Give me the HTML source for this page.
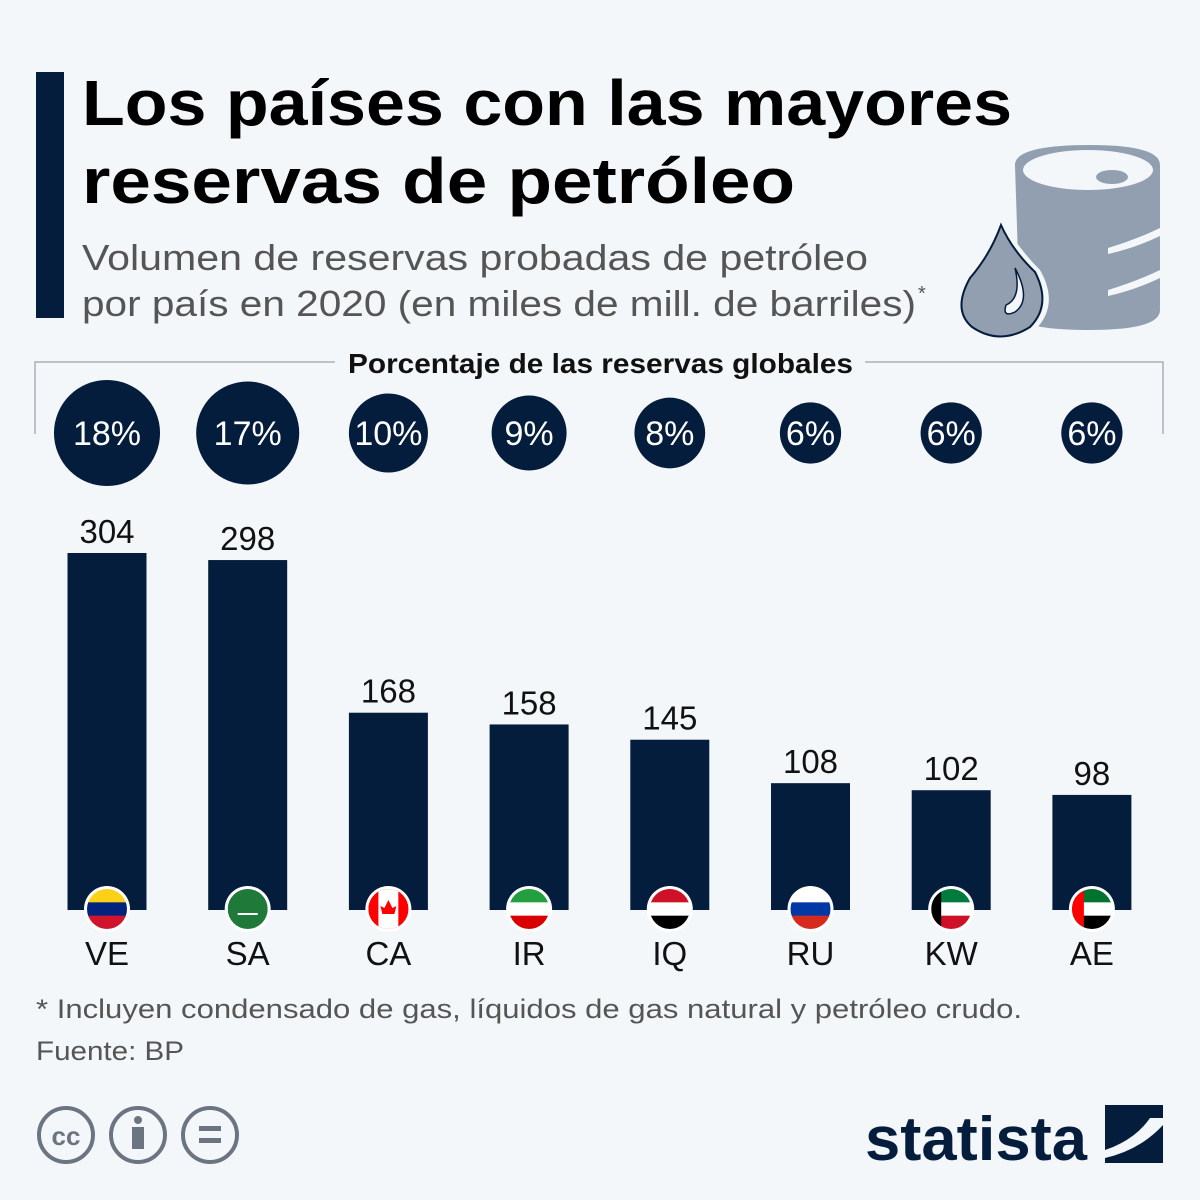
<!DOCTYPE html>
<html><head><meta charset="utf-8"><style>
body{margin:0;background:#f4f7fa;}
svg{display:block;font-family:"Liberation Sans","DejaVu Sans",sans-serif;}
</style></head><body>
<svg id="c" width="1200" height="1200" viewBox="0 0 1200 1200">
<rect width="1200" height="1200" fill="#f4f7fa"/>
<rect x="36" y="72" width="28" height="246" fill="#051d3d"/>
<text x="82" y="125" font-size="64" font-weight="bold" fill="#000" textLength="930" lengthAdjust="spacingAndGlyphs">Los países con las mayores</text>
<text x="82" y="203" font-size="64" font-weight="bold" fill="#000" textLength="713" lengthAdjust="spacingAndGlyphs">reservas de petróleo</text>
<text x="82" y="270" font-size="36" fill="#555" textLength="786" lengthAdjust="spacingAndGlyphs">Volumen de reservas probadas de petróleo</text>
<text x="82" y="316" font-size="36" fill="#555" textLength="834" lengthAdjust="spacingAndGlyphs">por país en 2020 (en miles de mill. de barriles)</text>
<text x="918" y="300" font-size="20" fill="#555">*</text>
<g>
<path d="M1015 165 Q1015 145 1090 145 Q1160 145 1160 165 L1160 310 Q1160 330 1090 330 Q1035 330 1020 320 Z" fill="#919fb0"/>
<ellipse cx="1088" cy="170" rx="65" ry="20" fill="#f4f7fa"/>
<ellipse cx="1112" cy="177" rx="16" ry="7" fill="#919fb0"/>
<path d="M1108 248 Q1135 240 1160 228 L1160 236 Q1135 248 1108 254 Z" fill="#f4f7fa"/>
<path d="M1108 290 Q1135 282 1160 270 L1160 278 Q1135 290 1108 296 Z" fill="#f4f7fa"/>
<path d="M1000 215 Q985 250 965 275 Q945 310 968 330 Q1000 352 1035 330 Q1060 305 1040 270 Q1015 245 1000 215 Z" fill="#f4f7fa"/>
<path d="M1001 225 Q990 255 970 278 Q952 310 972 327 Q1000 346 1030 327 Q1052 305 1035 272 Q1012 250 1001 225 Z" fill="#919fb0" stroke="#051d3d" stroke-width="2"/>
<path d="M1015 268 Q1032 300 1015 312 Q1002 318 1006 305 Q1022 298 1015 268 Z" fill="#f4f7fa" stroke="#051d3d" stroke-width="1.5"/>
</g>
<path d="M335 362 L35 362 L35 434 M865 362 L1163 362 L1163 434" fill="none" stroke="#aab0b8" stroke-width="1.5"/>
<text x="348" y="373" font-size="28" font-weight="bold" fill="#111" textLength="505" lengthAdjust="spacingAndGlyphs">Porcentaje de las reservas globales</text>
<g id="circles"></g>
<g id="bars"></g>
<text x="36" y="1018" font-size="27" fill="#555" textLength="986" lengthAdjust="spacingAndGlyphs">* Incluyen condensado de gas, líquidos de gas natural y petróleo crudo.</text>
<text x="36" y="1060" font-size="27" fill="#555" textLength="148" lengthAdjust="spacingAndGlyphs">Fuente: BP</text>
<g fill="none" stroke="#6b7480" stroke-width="4">
<circle cx="66" cy="1135" r="27"/><circle cx="138" cy="1135" r="27"/><circle cx="210" cy="1135" r="27"/>
<text x="66" y="1145" font-size="26" font-weight="bold" text-anchor="middle" fill="#6b7480" stroke="none">cc</text>
<circle cx="138" cy="1120" r="4" fill="#6b7480" stroke="none"/>
<rect x="132" y="1127" width="12" height="22" fill="#6b7480" stroke="none"/>
<rect x="199" y="1126" width="22" height="5" fill="#6b7480" stroke="none"/><rect x="199" y="1138" width="22" height="5" fill="#6b7480" stroke="none"/>
</g>
<text x="865" y="1160" font-size="62" font-weight="bold" fill="#051d3d" textLength="222" lengthAdjust="spacingAndGlyphs">statista</text>
<g>
<rect x="1105" y="1105" width="58" height="58" fill="#051d3d"/>
<path d="M1105 1150 Q1135 1140 1150 1118 L1163 1118 L1163 1125 Q1140 1150 1105 1158 Z" fill="#f4f7fa"/>
</g>
</svg>
<script>
const countries=["VE","SA","CA","IR","IQ","RU","KW","AE"];
const values=[304,298,168,158,145,108,102,98];
const shares=[18,17,10,9,8,6,6,6];
const NS="http://www.w3.org/2000/svg";
const x0=107,step=140.7,base=910,scale=357/304,bw=79;
const xPos=i=>x0+i*step;
const yPos=v=>base-v*scale;
const rad=p=>12.5*Math.sqrt(p);
function mk(t,a,parent){const e=document.createElementNS(NS,t);for(const k in a)e.setAttribute(k,a[k]);parent.appendChild(e);return e;}
const cg=document.getElementById('circles'),bg=document.getElementById('bars');
const flags={
VE:[["#fcd116",0,1/3],["#00247d",1/3,2/3],["#cf142b",2/3,1]],
SA:[["#1f7a3a",0,1]],
CA:[["#ff0000",0,1]],
IR:[["#239f40",0,1/3],["#ffffff",1/3,2/3],["#da0000",2/3,1]],
IQ:[["#ce1126",0,1/3],["#ffffff",1/3,2/3],["#000000",2/3,1]],
RU:[["#ffffff",0,1/3],["#0039a6",1/3,2/3],["#d52b1e",2/3,1]],
KW:[["#007a3d",0,1/3],["#ffffff",1/3,2/3],["#ce1126",2/3,1]],
AE:[["#00732f",0,1/3],["#ffffff",1/3,2/3],["#000000",2/3,1]]};
shares.forEach((p,i)=>{
 const c=mk('circle',{cx:xPos(i),cy:433,r:rad(p),fill:'#051d3d'},cg);
 
 
 const t=mk('text',{x:xPos(i),y:445,'font-size':34,'text-anchor':'middle',fill:'#fff'},cg);
 t.textContent=p+'%';
 
 
});
values.forEach((v,i)=>{
 const x=xPos(i),code=countries[i];
 const r=mk('rect',{x:x-bw/2,y:yPos(v),width:bw,height:base-yPos(v),fill:'#051d3d'},bg);
 
 
 const t=mk('text',{x:x,y:yPos(v)-10,'font-size':33,'text-anchor':'middle',fill:'#111'},bg);
 t.textContent=v;
 
 
 const g=mk('g',{},bg);
 
 
 const cid='clip'+i;
 const cp=mk('clipPath',{id:cid},g);mk('circle',{cx:x,cy:909,r:20},cp);
 mk('circle',{cx:x,cy:909,r:23,fill:'#fff'},g);
 const fg=mk('g',{'clip-path':'url(#'+cid+')'},g);
 flags[code].forEach(s=>mk('rect',{x:x-20,y:889+40*s[1],width:40,height:40*(s[2]-s[1])+0.5,fill:s[0]},fg));
 if(code==='CA'){mk('rect',{x:x-20,y:889,width:10,height:40,fill:'#ff0000'},fg);mk('rect',{x:x-10,y:889,width:20,height:40,fill:'#fff'},fg);mk('rect',{x:x+10,y:889,width:10,height:40,fill:'#ff0000'},fg);mk('path',{d:`M${x} ${900} l4 8 l4 -2 l-2 8 l-6 0 l-6 0 l-2 -8 l4 2 z`,fill:'#ff0000'},fg);}
 if(code==='KW'||code==='AE')mk('rect',{x:x-20,y:889,width:code==='AE'?12:10,height:40,fill:code==='AE'?'#ff0000':'#000'},fg);
 if(code==='SA')mk('rect',{x:x-10,y:913,width:20,height:2,fill:'#fff'},fg);
 const l=mk('text',{x:x,y:965,'font-size':33,'text-anchor':'middle',fill:'#111'},bg);
 l.textContent=code;
 
 
});
</script>
</body></html>
